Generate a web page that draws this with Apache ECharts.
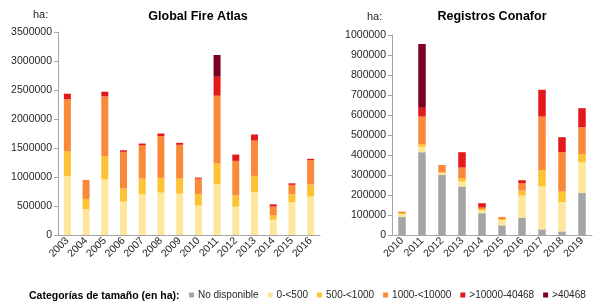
<!DOCTYPE html>
<html><head><meta charset="utf-8">
<script src="https://cdn.jsdelivr.net/npm/echarts@6/dist/echarts.min.js"></script>
<style>html,body{margin:0;padding:0;background:#fff}#c{width:608px;height:307px}</style>
</head><body><div id="c"></div>
<script>
const seriesNames = ['No disponible', '0-<500', '500-<1000', '1000-<10000', '>10000-40468', '>40468'];
const colors = ['#a5a5a5', '#fee79c', '#fec235', '#f88a3a', '#e3191c', '#7d0022'];

const catsGFA = ['2003','2004','2005','2006','2007','2008','2009','2010','2011','2012','2013','2014','2015','2016'];
const gfaNoDisp = [0,0,0,0,0,0,0,0,0,0,0,0,0,0];
const gfa0_500 = [1012000,449000,960000,575000,701000,731000,713000,506000,881000,489000,736000,264000,563000,662000];
const gfa500_1000 = [427000,173000,398000,225000,271000,254000,259000,202000,351000,195000,283000,81000,138000,207000];
const gfa1000_10000 = [903000,328000,1031000,634000,571000,718000,583000,264000,1169000,594000,610000,144000,163000,420000];
const gfa10000_40468 = [94000,0,81000,27000,34000,47000,34000,18000,328000,109000,104000,40000,27000,24000];
const gfa40468 = [0,0,0,0,0,0,0,0,374000,0,0,0,0,0];

const catsCon = ['2010','2011','2012','2013','2014','2015','2016','2017','2018','2019'];
const conNoDisp = [90000,414000,300000,242000,109000,48000,85000,28000,18000,210000];
const con0_500 = [15000,27000,10000,25000,13000,27000,112000,216000,147000,154000];
const con500_1000 = [5000,13000,4000,18000,8000,5000,25000,80000,52000,41000];
const con1000_10000 = [7000,138000,36000,52000,7000,10000,37000,268000,197000,134000];
const con10000_40468 = [0,44000,0,77000,22000,0,15000,134000,75000,95000];
const con40468 = [0,319000,0,0,0,0,0,0,0,0];

const gfaData = [gfaNoDisp, gfa0_500, gfa500_1000, gfa1000_10000, gfa10000_40468, gfa40468];
const conData = [conNoDisp, con0_500, con500_1000, con1000_10000, con10000_40468, con40468];

const font = 'Liberation Sans, Arial, sans-serif';
const axisCol = '#a6a6a6';
const txtCol = '#262626';

function xAx(idx, cats) {
  return {
    type: 'category', gridIndex: idx, data: cats,
    axisLine: {lineStyle: {color: axisCol}},
    axisTick: {lineStyle: {color: axisCol}, length: 4},
    axisLabel: {rotate: 45, fontSize: 10.5, color: txtCol, fontFamily: font, margin: 4, interval: 0}
  };
}
function yAx(idx, max, interval) {
  return {
    type: 'value', gridIndex: idx, min: 0, max: max, interval: interval,
    splitLine: {show: false},
    axisLine: {show: true, lineStyle: {color: axisCol}},
    axisTick: {show: true, lineStyle: {color: axisCol}, length: 4},
    axisLabel: {fontSize: 10.5, color: txtCol, fontFamily: font, margin: 6, formatter: v => String(v)}
  };
}

const series = [];
seriesNames.forEach((n, i) => {
  series.push({name: n, type: 'bar', stack: 'g', xAxisIndex: 0, yAxisIndex: 0,
    barWidth: 7, data: gfaData[i], itemStyle: {color: colors[i]}});
  series.push({name: n, type: 'bar', stack: 'c', xAxisIndex: 1, yAxisIndex: 1,
    barWidth: 7.5, data: conData[i], itemStyle: {color: colors[i]}});
});

const chart = echarts.init(document.getElementById('c'));
chart.setOption({
  animation: false,
  textStyle: {fontFamily: font},
  title: [
    {text: 'Global Fire Atlas', left: 193, top: 5, textAlign: 'center',
     textStyle: {fontSize: 12.5, fontWeight: 'bold', color: '#000', fontFamily: font}},
    {text: 'Registros Conafor', left: 487, top: 5, textAlign: 'center',
     textStyle: {fontSize: 12.5, fontWeight: 'bold', color: '#000', fontFamily: font}},
    {text: 'ha:', left: 28, top: 4, textStyle: {fontSize: 11, fontWeight: 'normal', color: txtCol, fontFamily: font}},
    {text: 'ha:', left: 362, top: 6, textStyle: {fontSize: 11, fontWeight: 'normal', color: txtCol, fontFamily: font}}
  ],
  grid: [
    {left: 58, right: 288, top: 32, bottom: 72, containLabel: false},
    {left: 392, right: 16, top: 35, bottom: 72, containLabel: false}
  ],
  xAxis: [xAx(0, catsGFA), xAx(1, catsCon)],
  yAxis: [yAx(0, 3500000, 500000), yAx(1, 1000000, 100000)],
  legend: {
    data: seriesNames, left: 189, top: 290, width: 440, padding: 0, icon: 'rect', itemWidth: 5, itemHeight: 5,
    itemGap: 9, textStyle: {fontSize: 10, color: txtCol, fontFamily: font, padding: [0,0,0,-1]}
  },
  graphic: [{type: 'text', left: 29, top: 291,
    style: {text: 'Categorías de tamaño (en ha):', font: 'bold 10.5px ' + font, fill: '#000'}}],
  series: series
});
</script></body></html>
